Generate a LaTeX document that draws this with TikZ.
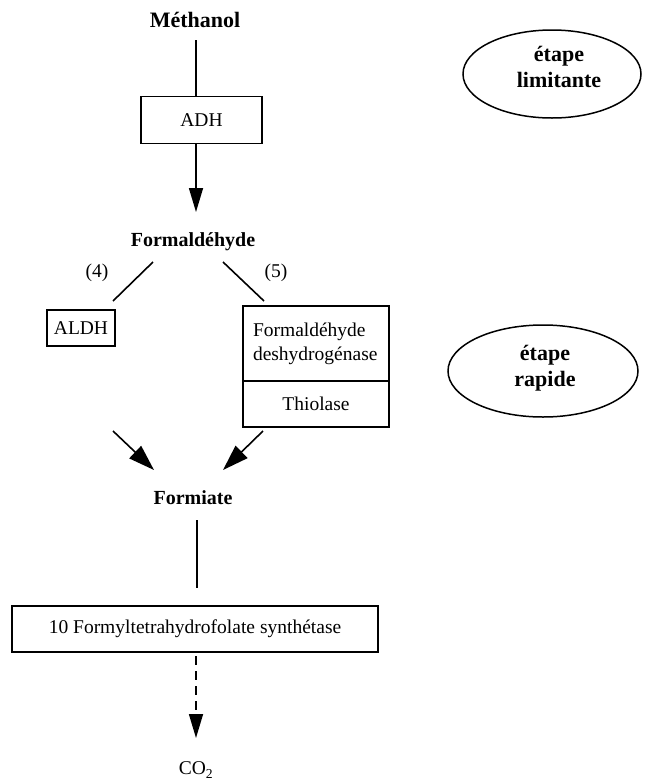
\documentclass[tikz,border=0pt]{standalone}
\usepackage{fontspec}
\setmainfont{Liberation Serif}
\usetikzlibrary{arrows.meta,shapes.geometric}
\begin{document}
\begin{tikzpicture}[x=1pt,y=-1pt,
  every node/.style={inner sep=0pt, outer sep=0pt},
  txt/.style={font=\fontsize{19.5}{24}\selectfont},
  bold/.style={font=\fontsize{20}{24}\selectfont\bfseries},
  big/.style={font=\fontsize{22}{26}\selectfont\bfseries, align=center},
  enzbox/.style={draw, line width=1.7pt, txt},
  conn/.style={line width=1.6pt},
  tip/.style={-{Triangle[length=24pt,width=14pt]}},
  bigtip/.style={-{Triangle[length=26pt,width=17pt]}},
  tag/.style={ellipse, draw, line width=1.5pt}]
\useasboundingbox (0,0) rectangle (652,780);

% metabolites and enzymes
\node[big] (meth) at (195,20) {Méthanol};
\node[enzbox, minimum width=121pt, minimum height=47pt] (adh) at (201.5,120) {ADH};
\node[bold] (fald) at (193,242) {Formaldéhyde};
\node[txt] (n4) at (97,273) {(4)};
\node[txt] (n5) at (276,273) {(5)};
\node[enzbox, minimum width=68pt, minimum height=36pt] (aldh) at (81,328) {ALDH};
\node[enzbox, minimum width=146pt, minimum height=75pt, text width=126pt,
      align=left, inner xsep=10pt] (fdh) at (316,343.5) {Formaldéhyde\\deshydrogénase};
\node[enzbox, minimum width=146pt, minimum height=46pt] (thio) at (316,404) {Thiolase};
\node[bold] (form) at (193,498) {Formiate};
\node[enzbox, minimum width=366pt, minimum height=46pt] (fthfs) at (195,629)
  {10 Formyltetrahydrofolate synthétase};
\node[txt] (co2) at (196,770) {CO\textsubscript{2}};

% step labels
\node[tag, minimum width=178pt, minimum height=88pt] (lim) at (552,74) {};
\node[big] (limtxt) at (559,67) {étape\\limitante};
\node[tag, minimum width=190pt, minimum height=92pt] (rap) at (543,371) {};
\node[big] (raptxt) at (545,368) {étape\\rapide};

% connectors
\coordinate (m0) at (196,40);
\draw[conn] (m0) -- (m0 |- adh.north);
\coordinate (f0) at (196,212);
\draw[conn,tip] (f0 |- adh.south) -- (f0);

\coordinate (a4) at (153,262);
\coordinate (b4) at (113,301);
\draw[conn] (a4) -- (b4);
\coordinate (a5) at (223,262);
\coordinate (b5) at (264,301);
\draw[conn] (a5) -- (b5);

\coordinate (c4) at (113,431);
\coordinate (d4) at (154,470);
\draw[conn,bigtip] (c4) -- (d4);
\coordinate (c5) at (263,431);
\coordinate (d5) at (223,470);
\draw[conn,bigtip] (c5) -- (d5);

\coordinate (g0) at (197,520);
\coordinate (g1) at (197,588);
\draw[conn] (g0) -- (g1);

\coordinate (h0) at (196,738);
\draw[conn,tip,dash pattern=on 9pt off 6pt,shorten <=4pt] (h0 |- fthfs.south) -- (h0);
\end{tikzpicture}
\end{document}
